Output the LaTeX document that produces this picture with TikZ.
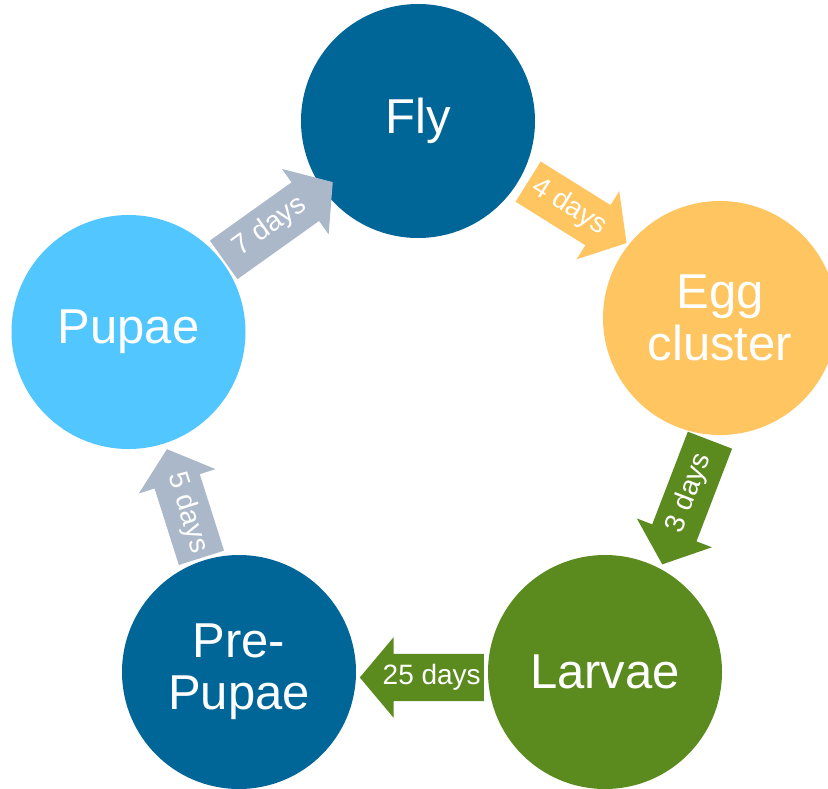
\documentclass[tikz,border=0pt]{standalone}
\usepackage{fontspec}
\setmainfont{Liberation Sans}
\usetikzlibrary{shapes.arrows}
\definecolor{darkblue}{RGB}{0,102,152}
\definecolor{eggcol}{RGB}{255,197,97}
\definecolor{larvcol}{RGB}{91,138,31}
\definecolor{pupcol}{RGB}{82,198,255}
\definecolor{graycol}{RGB}{170,184,201}
\begin{document}
\begin{tikzpicture}[x=1pt,y=-1pt,
  stage/.style={circle, minimum size=234pt, inner sep=0pt, text=white,
    font=\fontsize{49}{52}\selectfont, align=center},
  dayarrow/.style={single arrow, minimum width=80pt, single arrow head extend=16.5pt,
    single arrow tip angle=100, inner xsep=0pt, inner ysep=10.5pt,
    text height=20pt, text depth=6pt, text=white, anchor=tail,
    font=\fontsize{28}{30}\selectfont}]
\clip (0,0) rectangle (828,788);
\fill[white] (0,0) rectangle (828,788);

\node[stage, fill=darkblue] (fly) at (418,121) {Fly};
\node[stage, fill=eggcol] (egg) at (720,318) {Egg\\cluster};
\node[stage, fill=larvcol] (larvae) at (605,672) {Larvae};
\node[stage, fill=darkblue] (prepupae) at (239,672) {Pre-\\Pupae};
\node[stage, fill=pupcol] (pupae) at (128.5,332) {Pupae};

\node[dayarrow, fill=graycol, minimum height=134pt, rotate=35.5] (a7) at (223.5,260) {7 days};
\node[dayarrow, fill=eggcol, minimum height=116pt, rotate=-32] (a4) at (528,181.5) {4 days};
\node[dayarrow, fill=larvcol, minimum height=133pt, rotate=69, shape border rotate=180] (a3) at (710,440) {3 days};
\node[dayarrow, fill=larvcol, minimum height=124pt, shape border rotate=180] (a25) at (484,677.5) {25 days};
\node[dayarrow, fill=graycol, minimum height=114pt, rotate=-72.4, shape border rotate=180] (a5) at (201.5,558) {5 days};
\end{tikzpicture}
\end{document}
